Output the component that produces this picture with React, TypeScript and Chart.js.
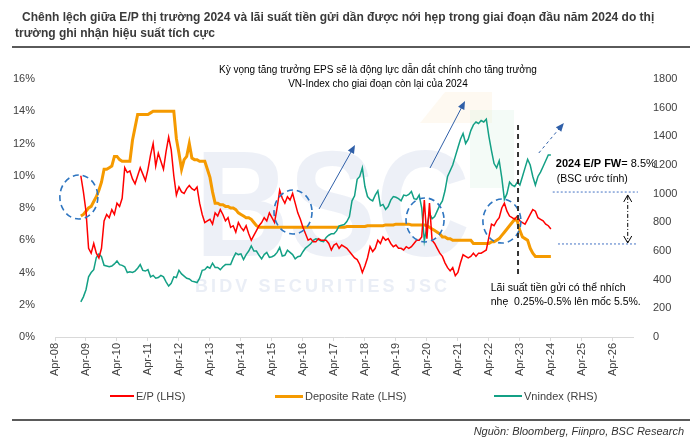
import React, { useEffect, useRef } from "react";
import { Chart, registerables } from "chart.js";

Chart.register(...registerables);

// ---- data (monthly, first point = Feb 2009) ----
const firstYear = 2009;
const firstMonth = 2; // February

const epValues = [
  // 2009 (Feb-Dec)
  10.0, 9.0, 7.8, 5.5, 5.2, 5.8, 5.2, 4.9, 5.5, 7.2, 7.6,
  // 2010
  7.4, 7.9, 7.6, 8.3, 8.1, 8.6, 10.5, 10.2, 10.3, 9.8, 9.5, 10.0,
  // 2011
  10.5, 10.1, 9.7, 10.4, 11.3, 12.0, 10.6, 11.4, 10.9, 10.4, 11.5, 12.4,
  // 2012
  11.6, 10.0, 8.8, 9.3, 9.0, 8.9, 9.2, 9.4, 9.2, 9.1, 9.3, 8.3,
  // 2013
  7.6, 7.1, 7.2, 7.3, 7.0, 7.7, 7.5, 7.9, 7.6, 7.2, 7.4, 6.8,
  // 2014
  6.9, 6.5, 7.1, 6.8, 6.6, 6.9, 6.4, 6.0, 6.3, 6.6, 6.9, 7.1,
  // 2015
  7.4, 7.2, 7.7, 7.4, 7.1, 8.0, 9.1, 8.6, 8.3, 8.7, 8.5, 8.9,
  // 2016
  8.3, 7.7, 7.3, 6.8, 6.4, 6.0, 6.1, 5.9, 5.9, 6.1, 6.0, 6.0,
  // 2017
  6.0, 5.8, 5.4, 5.7, 5.8, 5.5, 5.7, 5.6, 5.5, 5.3, 5.1, 4.9,
  // 2018
  4.8, 4.5, 4.0, 4.4, 4.9, 5.6, 5.3, 5.5, 6.0, 5.8, 6.2, 6.0,
  // 2019
  6.1, 5.8, 5.6, 5.7, 5.5, 5.5, 5.4, 5.6, 5.5, 5.6, 5.8, 6.0,
  // 2020
  6.0, 6.2, 8.5, 6.1, 8.3, 6.0, 5.8, 5.5, 5.2, 5.0, 4.6, 4.3,
  // 2021
  4.1, 4.3, 3.8, 4.0, 4.6, 5.1, 5.0, 4.9, 5.0, 5.2, 5.0, 5.2,
  // 2022
  5.2, 5.3, 5.4, 6.2, 7.0, 6.9, 7.2, 7.4, 8.0, 8.3, 7.8, 7.5,
  // 2023
  7.4, 7.3, 7.5, 7.2, 7.1, 7.0, 7.3, 7.6, 7.9, 7.8, 7.4, 7.3,
  // 2024 (Jan-Apr)
  7.2, 7.0, 6.9, 6.7,
];

const depositValues = [
  // 2009
  7.5, 7.6, 7.8, 8.0, 8.1, 8.4, 8.7, 9.1, 9.6, 10.4, 10.4,
  // 2010
  10.5, 10.6, 11.2, 11.2, 11.0, 10.9, 10.9, 10.9, 10.9, 12.2, 13.0, 13.8,
  // 2011
  13.8, 13.8, 13.8, 13.8, 13.9, 14.0, 14.0, 14.0, 14.0, 14.0, 14.0, 14.0,
  // 2012
  14.0, 14.0, 12.3, 11.4, 10.4, 11.0, 11.2, 12.0, 11.1, 11.0, 11.0, 10.9,
  // 2013
  10.9, 10.9, 10.4, 9.9, 9.0, 8.3, 8.3, 8.2, 8.2, 8.1, 8.1, 8.0,
  // 2014
  8.0, 7.9, 7.7, 7.6, 7.5, 7.4, 7.4, 7.3, 7.1, 6.9, 6.8, 6.8,
  // 2015
  6.8, 6.8, 6.8, 6.8, 6.8, 6.8, 6.8, 6.8, 6.8, 6.8, 6.8, 6.8,
  // 2016
  6.8, 6.8, 6.8, 6.8, 6.8, 6.8, 6.8, 6.8, 6.8, 6.8, 6.8, 6.8,
  // 2017
  6.8, 6.8, 6.8, 6.8, 6.8, 6.8, 6.8, 6.8, 6.85, 6.85, 6.85, 6.85,
  // 2018
  6.85, 6.85, 6.85, 6.85, 6.9, 6.9, 6.9, 6.9, 6.9, 6.9, 6.9, 6.95,
  // 2019
  6.95, 6.95, 6.95, 7.0, 7.0, 7.0, 7.0, 7.0, 7.0, 6.95, 6.95, 6.95,
  // 2020
  6.95, 6.95, 6.95, 6.9, 6.8, 6.7, 6.6, 6.5, 6.4, 6.2, 6.2, 6.1,
  // 2021
  6.1, 6.0, 6.0, 6.0, 6.0, 6.0, 6.0, 6.0, 6.0, 5.8, 5.8, 5.8,
  // 2022
  5.8, 5.8, 5.8, 5.8, 5.9, 5.9, 6.0, 6.1, 6.3, 6.5, 6.7, 6.9,
  // 2023
  7.1, 7.3, 7.2, 6.6, 6.2, 6.1, 6.0, 5.5, 5.2, 5.0, 5.0, 5.0,
  // 2024
  5.0, 5.0, 5.0, 5.0,
];

const vnindexValues = [
  // 2009
  245, 280, 330, 420, 450, 470, 555, 580, 560, 500, 495,
  // 2010
  490, 495, 510, 530, 505, 500, 490, 450, 455, 450, 460, 480,
  // 2011
  505, 465, 460, 470, 420, 430, 410, 415, 430, 420, 385, 355,
  // 2012
  375, 420, 415, 465, 440, 425, 410, 405, 390, 385, 380, 410,
  // 2013
  465, 470, 490, 480, 515, 485, 485, 470, 490, 505, 505, 505,
  // 2014
  550, 585, 575, 580, 540, 575, 600, 635, 600, 600, 570, 545,
  // 2015
  575, 590, 555, 560, 570, 590, 625, 565, 570, 605, 590, 575,
  // 2016
  545, 560, 565, 595, 620, 635, 650, 675, 685, 680, 670, 665,
  // 2017
  695, 710, 720, 720, 740, 775, 780, 785, 805, 840, 950, 985,
  // 2018
  1100, 1120, 1180, 1050, 980, 960, 950, 990, 1020, 915, 925, 890,
  // 2019
  910, 955, 980, 975, 965, 950, 990, 985, 995, 1015, 965, 960,
  // 2020
  990, 900, 670, 770, 865, 825, 840, 880, 920, 950, 1020, 1120,
  // 2021
  1160, 1200, 1260, 1320, 1380, 1420, 1350, 1380, 1440, 1480, 1500, 1490,
  // 2022
  1510, 1500, 1520, 1400, 1300, 1210, 1180, 1230, 1110, 960, 1000, 1080,
  // 2023
  1060, 1050, 1080, 1060, 1120, 1180, 1240, 1200, 1120, 1060, 1120, 1150,
  // 2024
  1190, 1230, 1270, 1270,
];

const xTickLabels = [
  "Apr-08", "Apr-09", "Apr-10", "Apr-11", "Apr-12", "Apr-13", "Apr-14",
  "Apr-15", "Apr-16", "Apr-17", "Apr-18", "Apr-19", "Apr-20", "Apr-21",
  "Apr-22", "Apr-23", "Apr-24", "Apr-25", "Apr-26",
];
const xTickYears = [
  2008, 2009, 2010, 2011, 2012, 2013, 2014, 2015, 2016, 2017, 2018, 2019,
  2020, 2021, 2022, 2023, 2024, 2025, 2026,
];

const seriesNames = ["E/P (LHS)", "Deposite Rate (LHS)", "Vnindex (RHS)"];
const seriesColors = ["#FF0000", "#F59A00", "#13A085"];

const FONT = "'Liberation Sans', Arial, sans-serif";

function monthPos(i: number) {
  const m = firstMonth - 1 + i;
  return firstYear + m / 12;
}
function toPoints(vals: number[]) {
  return vals.map((v, i) => ({ x: monthPos(i), y: v }));
}

function drawArrow(ctx: CanvasRenderingContext2D, x1: number, y1: number, x2: number, y2: number, dashed: boolean) {
  const color = "#2F5FA8";
  ctx.save();
  ctx.strokeStyle = color;
  ctx.fillStyle = color;
  ctx.lineWidth = 1;
  ctx.setLineDash(dashed ? [3, 3] : []);
  const ang = Math.atan2(y2 - y1, x2 - x1);
  const hl = 9;
  const ex = x2 - Math.cos(ang) * hl * 0.8;
  const ey = y2 - Math.sin(ang) * hl * 0.8;
  ctx.beginPath();
  ctx.moveTo(x1, y1);
  ctx.lineTo(ex, ey);
  ctx.stroke();
  ctx.setLineDash([]);
  ctx.beginPath();
  ctx.moveTo(x2, y2);
  ctx.lineTo(x2 - hl * Math.cos(ang - 0.4), y2 - hl * Math.sin(ang - 0.4));
  ctx.lineTo(x2 - hl * Math.cos(ang + 0.4), y2 - hl * Math.sin(ang + 0.4));
  ctx.closePath();
  ctx.fill();
  ctx.restore();
}

const annotationPlugin = {
  id: "annotations",
  beforeDatasetsDraw(chart: any) {
    const ctx: CanvasRenderingContext2D = chart.ctx;
    const a = chart.chartArea;
    ctx.save();
    // faint logo shapes
    ctx.fillStyle = "rgba(250, 226, 190, 0.22)";
    ctx.beginPath();
    ctx.moveTo(a.left + 365, a.top + 44);
    ctx.lineTo(a.left + 390, a.top + 13);
    ctx.lineTo(a.left + 437, a.top + 13);
    ctx.lineTo(a.left + 437, a.top + 44);
    ctx.closePath();
    ctx.fill();
    ctx.fillStyle = "rgba(205, 236, 220, 0.22)";
    ctx.fillRect(a.left + 415, a.top + 31, 44, 78);
    // BSC watermark
    ctx.fillStyle = "rgba(214, 222, 238, 0.45)";
    ctx.font = `bold 150px ${FONT}`;
    ctx.textBaseline = "alphabetic";
    ctx.textAlign = "left";
    const w = ctx.measureText("BSC").width;
    ctx.translate(a.left + 140, a.top + 177);
    ctx.scale(275 / w, 1);
    ctx.fillText("BSC", 0, 0);
    ctx.restore();
    ctx.save();
    ctx.fillStyle = "rgba(214, 222, 238, 0.5)";
    ctx.font = `bold 18px ${FONT}`;
    ctx.textBaseline = "middle";
    const text = "BIDV SECURITIES JSC";
    const chars = text.split("");
    const widths = chars.map((c) => ctx.measureText(c).width);
    const total = widths.reduce((s, v) => s + v, 0);
    const spacing = (252 - total) / (chars.length - 1);
    let x = a.left + 140;
    chars.forEach((c, i) => {
      ctx.fillText(c, x, a.top + 208);
      x += widths[i] + spacing;
    });
    ctx.restore();
  },
  afterDatasetsDraw(chart: any) {
    const ctx: CanvasRenderingContext2D = chart.ctx;
    const xs = chart.scales.x;
    const ys = chart.scales.y;
    const X = (v: number) => xs.getPixelForValue(v);
    const Y = (v: number) => ys.getPixelForValue(v);

    // dashed circles
    const circles = [
      [2009.02, 8.68],
      [2015.93, 7.75],
      [2020.19, 7.26],
      [2022.67, 7.19],
    ];
    ctx.save();
    ctx.strokeStyle = "#2E75C0";
    ctx.lineWidth = 1.6;
    ctx.setLineDash([6, 4]);
    circles.forEach(([cx, cy]) => {
      ctx.beginPath();
      ctx.ellipse(X(cx), Y(cy), 19, 22, 0, 0, Math.PI * 2);
      ctx.stroke();
    });
    ctx.restore();

    // arrows
    drawArrow(ctx, X(2016.77), Y(7.94), X(2017.93), Y(11.91), false);
    drawArrow(ctx, X(2020.35), Y(10.48), X(2021.48), Y(14.64), false);
    drawArrow(ctx, X(2023.86), Y(11.41), X(2024.67), Y(13.27), true);

    // vertical dashed separator
    ctx.save();
    ctx.strokeStyle = "#333333";
    ctx.lineWidth = 2;
    ctx.setLineDash([5, 4]);
    ctx.beginPath();
    ctx.moveTo(X(2023.19), Y(13.15));
    ctx.lineTo(X(2023.19), Y(3.85));
    ctx.stroke();
    ctx.restore();

    // dotted horizontal lines
    ctx.save();
    ctx.strokeStyle = "#4472C4";
    ctx.lineWidth = 1;
    ctx.setLineDash([2, 2]);
    ctx.beginPath();
    ctx.moveTo(X(2024.31), Y(8.99));
    ctx.lineTo(X(2027.06), Y(8.99));
    ctx.moveTo(X(2024.48), Y(5.77));
    ctx.lineTo(X(2027.06), Y(5.77));
    ctx.stroke();
    ctx.restore();

    // double arrow (dash-dot)
    ctx.save();
    const ax = X(2026.73);
    const ay1 = Y(8.81);
    const ay2 = Y(5.83);
    ctx.strokeStyle = "#000000";
    ctx.lineWidth = 1;
    ctx.setLineDash([4, 2, 1, 2]);
    ctx.beginPath();
    ctx.moveTo(ax, ay1 + 1);
    ctx.lineTo(ax, ay2 - 1);
    ctx.stroke();
    ctx.setLineDash([]);
    ctx.beginPath();
    ctx.moveTo(ax - 4, ay1 + 7);
    ctx.lineTo(ax, ay1);
    ctx.lineTo(ax + 4, ay1 + 7);
    ctx.moveTo(ax - 4, ay2 - 7);
    ctx.lineTo(ax, ay2);
    ctx.lineTo(ax + 4, ay2 - 7);
    ctx.stroke();
    ctx.restore();

    // texts
    ctx.save();
    ctx.fillStyle = "#000000";
    ctx.textBaseline = "middle";
    ctx.textAlign = "center";
    ctx.font = `10px ${FONT}`;
    ctx.fillText("Kỳ vọng tăng trưởng EPS sẽ là động lực dẫn dắt chính cho tăng trưởng", X(2018.67), Y(16.56));
    ctx.fillText("VN-Index cho giai đoạn còn lại của 2024", X(2018.67), Y(15.69));
    ctx.textAlign = "left";
    ctx.font = `bold 11px ${FONT}`;
    const bx = X(2024.41);
    ctx.fillText("2024 E/P FW", bx, Y(10.73));
    const bw = ctx.measureText("2024 E/P FW").width;
    ctx.font = `11px ${FONT}`;
    ctx.fillText("= 8.5%", bx + bw, Y(10.73));
    ctx.font = `10.5px ${FONT}`;
    ctx.fillText("(BSC ước tính)", X(2024.44), Y(9.8));
    ctx.fillText("Lãi suất tiền gửi có thể nhích", X(2022.31), Y(3.04));
    ctx.fillText("nhẹ  0.25%-0.5% lên mốc 5.5%.", X(2022.31), Y(2.17));
    ctx.restore();
  },
};

export default function App() {
  const canvasRef = useRef<HTMLCanvasElement | null>(null);

  useEffect(() => {
    const canvas = canvasRef.current;
    if (!canvas) return;
    const chart = new Chart(canvas, {
      type: "line",
      data: {
        datasets: [
          {
            label: seriesNames[0],
            data: toPoints(epValues),
            borderColor: seriesColors[0],
            borderWidth: 1.5,
            pointRadius: 0,
            tension: 0,
            yAxisID: "y",
            order: 1,
          },
          {
            label: seriesNames[2],
            data: toPoints(vnindexValues),
            borderColor: seriesColors[2],
            borderWidth: 1.5,
            pointRadius: 0,
            tension: 0,
            yAxisID: "y1",
            order: 2,
          },
          {
            label: seriesNames[1],
            data: toPoints(depositValues),
            borderColor: seriesColors[1],
            borderWidth: 3,
            pointRadius: 0,
            tension: 0,
            yAxisID: "y",
            order: 3,
          },
        ],
      },
      options: {
        animation: false,
        responsive: false,
        devicePixelRatio: 1,
        parsing: false as any,
        layout: { padding: { top: 79, left: 0, right: 0, bottom: 0 } },
        plugins: { legend: { display: false }, tooltip: { enabled: false } },
        scales: {
          x: {
            type: "linear",
            bounds: "data",
            min: 2008.25,
            max: 2026.9,
            afterBuildTicks: (s: any) => {
              s.ticks = xTickYears.map((y) => ({ value: y + 0.25 }));
            },
            afterFit: (s: any) => {
              s.height = 101;
            },
            ticks: {
              autoSkip: false,
              maxRotation: 90,
              minRotation: 90,
              padding: 2,
              color: "#404040",
              font: { family: FONT, size: 11 },
              callback: (_v: any, i: number) => xTickLabels[i],
            },
            grid: {
              display: true,
              drawOnChartArea: false,
              drawTicks: true,
              tickLength: 4,
              color: "#D9D9D9",
            },
            border: { display: true, color: "#D9D9D9", width: 1 },
          },
          y: {
            type: "linear",
            position: "left",
            min: 0,
            max: 16,
            afterFit: (s: any) => {
              s.width = 55;
            },
            ticks: {
              stepSize: 2,
              padding: 12,
              color: "#404040",
              font: { family: FONT, size: 11 },
              callback: (v: any) => `${v}%`,
            },
            grid: { display: false },
            border: { display: false },
          },
          y1: {
            type: "linear",
            position: "right",
            min: 0,
            max: 1800,
            afterFit: (s: any) => {
              s.width = 67;
            },
            ticks: {
              stepSize: 200,
              padding: 12,
              color: "#404040",
              font: { family: FONT, size: 11 },
              callback: (v: any) => String(v),
            },
            grid: { display: false },
            border: { display: false },
          },
        },
      },
      plugins: [annotationPlugin],
    } as any);
    return () => chart.destroy();
  }, []);

  const legendItems = [
    { left: 110, width: 24, thick: 2 },
    { left: 275, width: 28, thick: 3 },
    { left: 494, width: 28, thick: 2 },
  ];

  const titleStyle: React.CSSProperties = {
    position: "absolute",
    fontSize: 12,
    lineHeight: "16px",
    fontWeight: "bold",
    color: "#3A3A3A",
    whiteSpace: "nowrap",
  };

  return (
    <div
      style={{
        position: "absolute",
        left: 0,
        top: 0,
        width: 700,
        height: 438,
        background: "#ffffff",
        fontFamily: FONT,
        overflow: "hidden",
      }}
    >
      <canvas
        ref={canvasRef}
        width={700}
        height={438}
        style={{ position: "absolute", left: 0, top: 0, width: 700, height: 438, display: "block" }}
      />
      <div style={{ ...titleStyle, left: 22, top: 9 }}>
        Chênh lệch giữa E/P thị trường 2024 và lãi suất tiền gửi dần được nới hẹp trong giai đoạn đầu năm 2024 do thị
      </div>
      <div style={{ ...titleStyle, left: 15, top: 25 }}>trường ghi nhận hiệu suất tích cực</div>
      <div style={{ position: "absolute", left: 12, top: 46, width: 678, height: 2, background: "#5A5A5A" }} />

      {legendItems.map((it, i) => (
        <React.Fragment key={i}>
          <div
            style={{
              position: "absolute",
              left: it.left,
              top: 396 - it.thick / 2,
              width: it.width,
              height: it.thick,
              background: seriesColors[i],
            }}
          />
          <div
            style={{
              position: "absolute",
              left: it.left + it.width + 2,
              top: 389,
              fontSize: 11,
              lineHeight: "14px",
              color: "#404040",
              whiteSpace: "nowrap",
            }}
          >
            {seriesNames[i]}
          </div>
        </React.Fragment>
      ))}

      <div style={{ position: "absolute", left: 12, top: 419, width: 678, height: 2, background: "#5A5A5A" }} />
      <div
        style={{
          position: "absolute",
          right: 16,
          top: 424,
          fontSize: 11,
          lineHeight: "14px",
          fontStyle: "italic",
          color: "#333333",
          whiteSpace: "nowrap",
        }}
      >
        Nguồn: Bloomberg, Fiinpro, BSC Research
      </div>
    </div>
  );
}
